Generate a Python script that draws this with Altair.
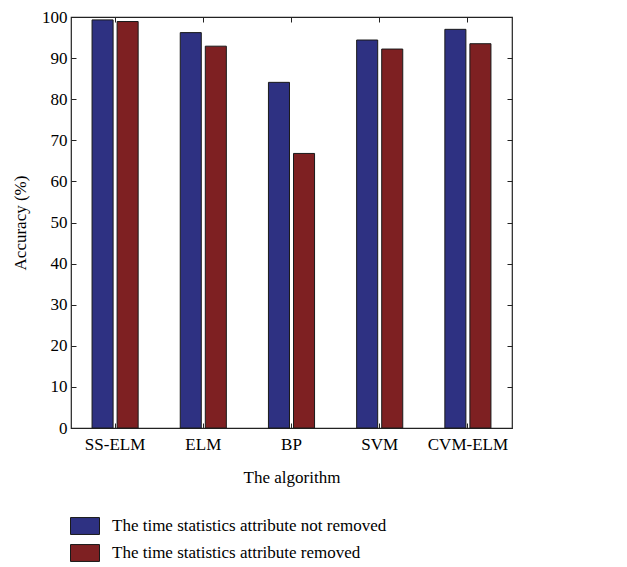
import altair as alt
import pandas as pd

algorithms = ["SS-ELM", "ELM", "BP", "SVM", "CVM-ELM"]
not_removed = [99.3, 96.2, 84.1, 94.4, 97.0]
removed = [98.9, 92.9, 66.8, 92.2, 93.5]
series = ["The time statistics attribute not removed", "The time statistics attribute removed"]
colors = ["#2e3182", "#7e2022"]
y_ticks = [0, 10, 20, 30, 40, 50, 60, 70, 80, 90, 100]

rows = []
for a, v1, v2 in zip(algorithms, not_removed, removed):
    rows.append({"alg": a, "series": series[0], "acc": v1})
    rows.append({"alg": a, "series": series[1], "acc": v2})
df = pd.DataFrame(rows)

FONT = "Liberation Serif"

xscale = alt.Scale(domain=algorithms, paddingInner=0, paddingOuter=0)
yscale = alt.Scale(domain=[0, 100], nice=False)
offscale = alt.Scale(domain=series, paddingInner=0.16, paddingOuter=0.84)

base = alt.Chart(df)

bars = base.mark_bar(stroke="#1a1a1a", strokeWidth=1).encode(
    x=alt.X("alg:N", scale=xscale, sort=algorithms,
            axis=alt.Axis(orient="bottom", title="The algorithm", labelAngle=0,
                          offset=-5, tickSize=5, domain=False, labelPadding=8,
                          titlePadding=17, grid=False)),
    xOffset=alt.XOffset("series:N", scale=offscale, sort=series),
    y=alt.Y("acc:Q", scale=yscale,
            axis=alt.Axis(orient="left", title="Accuracy (%)", values=y_ticks,
                          offset=-5, tickSize=5, domain=False, labelPadding=4,
                          titlePadding=12, grid=False)),
    color=alt.Color("series:N", scale=alt.Scale(domain=series, range=colors),
                    legend=alt.Legend(title=None, orient="none", legendX=1, legendY=496,
                                      symbolType="M-1.2,-0.7H1.2V0.7H-1.2Z",
                                      symbolSize=584, symbolStrokeColor="#1a1a1a",
                                      symbolStrokeWidth=1, symbolOpacity=1,
                                      labelFontSize=17, labelFont=FONT, labelColor="black",
                                      labelOffset=14, rowPadding=3, labelLimit=600)),
)

mirror = base.mark_bar(opacity=0).encode(
    x=alt.X("alg:N", scale=xscale, sort=algorithms,
            axis=alt.Axis(orient="top", title=None, labels=False, offset=-5,
                          tickSize=5, domain=False, grid=False)),
    y=alt.Y("acc:Q", scale=yscale,
            axis=alt.Axis(orient="right", title=None, labels=False, values=y_ticks,
                          offset=-5, tickSize=5, domain=False, grid=False)),
)

chart = alt.layer(bars, mirror).resolve_axis(x="independent", y="independent").properties(
    width=441, height=411,
    background="white",
    autosize=alt.AutoSizeParams(type="none"),
    padding={"left": 63, "top": 9, "right": 40, "bottom": 140},
).configure_view(stroke="#222222", strokeWidth=1.2).configure_axis(
    labelFont=FONT, titleFont=FONT, labelFontSize=17, titleFontSize=17,
    labelColor="black", titleColor="black", tickColor="#222222", tickWidth=1,
    titleFontWeight="normal",
)

chart.save("out.html", embed_options={"renderer": "svg", "actions": False})
